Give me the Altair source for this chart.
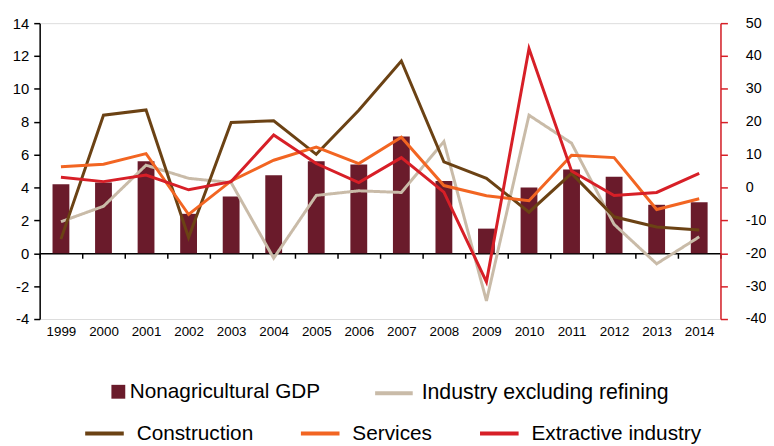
import altair as alt
import pandas as pd

years = [str(y) for y in range(1999, 2015)]
gdp = [4.2, 4.3, 5.6, 2.4, 3.45, 4.75, 5.6, 5.4, 7.1, 4.4, 1.5, 4.0, 5.1, 4.65, 2.95, 3.1]
industry = [-10.4, -5.7, 6.8, 2.8, 1.5, -21.5, -2.4, -1.0, -1.5, 14.0, -34.5, 22.0, 13.5, -11.2, -23.2, -15.0]
construction = [-15.7, 22.0, 23.6, -15.2, 19.8, 20.3, 10.1, 23.5, 38.5, 7.8, 2.8, -7.5, 4.3, -8.9, -12.0, -12.9]
services = [6.3, 7.1, 10.3, -8.2, 2.0, 8.3, 12.3, 7.3, 15.3, 0.6, -2.5, -4.0, 9.8, 9.1, -6.7, -3.4]
extractive = [3.1, 1.8, 3.8, -0.7, 1.8, 16.0, 7.3, 1.5, 9.1, -1.4, -28.7, 42.3, 5.0, -2.4, -1.5, 4.3]

MAROON = "#6a1b2b"
BEIGE = "#c9bba8"
BROWN = "#6b4214"
ORANGE = "#f26522"
RED = "#d71f27"
FONT = "Liberation Sans"

df_gdp = pd.DataFrame({"year": years, "value": gdp, "s": "Nonagricultural GDP"})
df_ind = pd.DataFrame({"year": years, "value": industry, "s": "Industry excluding refining"})
line_names = ["Construction", "Services", "Extractive industry"]
df_lines = pd.concat([
    pd.DataFrame({"year": years, "value": vals, "series": name, "k": i})
    for i, (name, vals) in enumerate(zip(line_names, [construction, services, extractive]))
])

x_enc = alt.X(
    "year:N", sort=years,
    scale=alt.Scale(paddingInner=0, paddingOuter=0),
    axis=alt.Axis(
        title=None, labelAngle=0, tickBand="extent", offset=-66.44,
        labelPadding=67, tickSize=5, tickColor="black", domainColor="black",
        domainWidth=1.5, tickWidth=1.5, labelFontSize=13.5, labelFont=FONT,
        labelColor="black", grid=False, zindex=0, labelOverlap=False,
    ),
)

bars = alt.Chart(df_gdp).mark_bar(size=17).encode(
    x=x_enc,
    y=alt.Y(
        "value:Q",
        scale=alt.Scale(domain=[-4, 14], nice=False, zero=False),
        axis=alt.Axis(
            title=None, orient="left", values=list(range(-4, 15, 2)),
            domainColor="black", tickColor="black", grid=False,
            tickSize=6, labelPadding=5, labelExpr="'' + datum.value",
        ),
    ),
    color=alt.Color(
        "s:N",
        scale=alt.Scale(domain=["Nonagricultural GDP"], range=[MAROON]),
        legend=alt.Legend(
            title=None, orient="none", legendX=69, legendY=362, padding=0,
            symbolType="square", symbolSize=196, symbolStrokeWidth=0,
            labelFontSize=21, labelFont=FONT, labelColor="black", labelOffset=1,
            direction="horizontal", labelLimit=0,
        ),
    ),
)

y_right = alt.Y(
    "value:Q",
    scale=alt.Scale(domain=[-40, 50], nice=False, zero=False),
    axis=alt.Axis(
        title=None, orient="right", values=list(range(-40, 51, 10)),
        domainColor=RED, tickColor=RED, grid=False,
        tickSize=7, labelPadding=18, labelAlign="left",
        labelExpr="'' + datum.value",
    ),
)

ind_line = alt.Chart(df_ind).mark_line(strokeWidth=3, color=BEIGE).encode(
    x=x_enc,
    y=y_right,
    strokeDash=alt.StrokeDash(
        "s:N",
        scale=alt.Scale(domain=["Industry excluding refining"], range=[[1, 0]]),
        legend=alt.Legend(
            title=None, orient="none", legendX=337, legendY=353, padding=0,
            symbolType="stroke", symbolSize=1444, symbolStrokeWidth=4,
            symbolStrokeColor=BEIGE, labelFontSize=21.5, labelFont=FONT,
            labelColor="black", labelOffset=7, direction="horizontal", labelLimit=0,
        ),
    ),
)

other_lines = alt.Chart(df_lines).mark_line(strokeWidth=3).encode(
    x=x_enc,
    y=y_right,
    stroke=alt.Stroke(
        "series:N",
        sort=line_names,
        scale=alt.Scale(domain=line_names, range=[BROWN, ORANGE, RED]),
        legend=alt.Legend(
            title=None, orient="none", legendX=44, legendY=393, padding=0,
            symbolType="stroke", symbolSize=1521, symbolStrokeWidth=4,
            labelFontSize=21, labelFont=FONT, labelColor="black", labelOffset=11,
            columnPadding=40, direction="horizontal", labelLimit=0,
        ),
    ),
    order=alt.Order("k:Q"),
)

lines = alt.layer(ind_line, other_lines)

chart = alt.layer(bars, lines).resolve_scale(y="independent").properties(
    width=688,
    height=299,
    padding={"left": 32, "top": 13, "right": 46, "bottom": 126},
    autosize=alt.AutoSizeParams(type="none"),
).configure_view(stroke=None).configure(background="white").configure_axisLeft(
    tickSize=6, labelPadding=5, domainWidth=1.5, tickWidth=1.5,
    labelFontSize=15, labelFont=FONT, labelColor="black", labelOverlap=False,
).configure_axisRight(
    tickSize=7, labelPadding=18, domainWidth=1.5, tickWidth=1.5,
    labelFontSize=14.5, labelFont=FONT, labelColor="black", labelOverlap=False,
)

chart.save("out.html", embed_options={"renderer": "svg", "actions": False})
